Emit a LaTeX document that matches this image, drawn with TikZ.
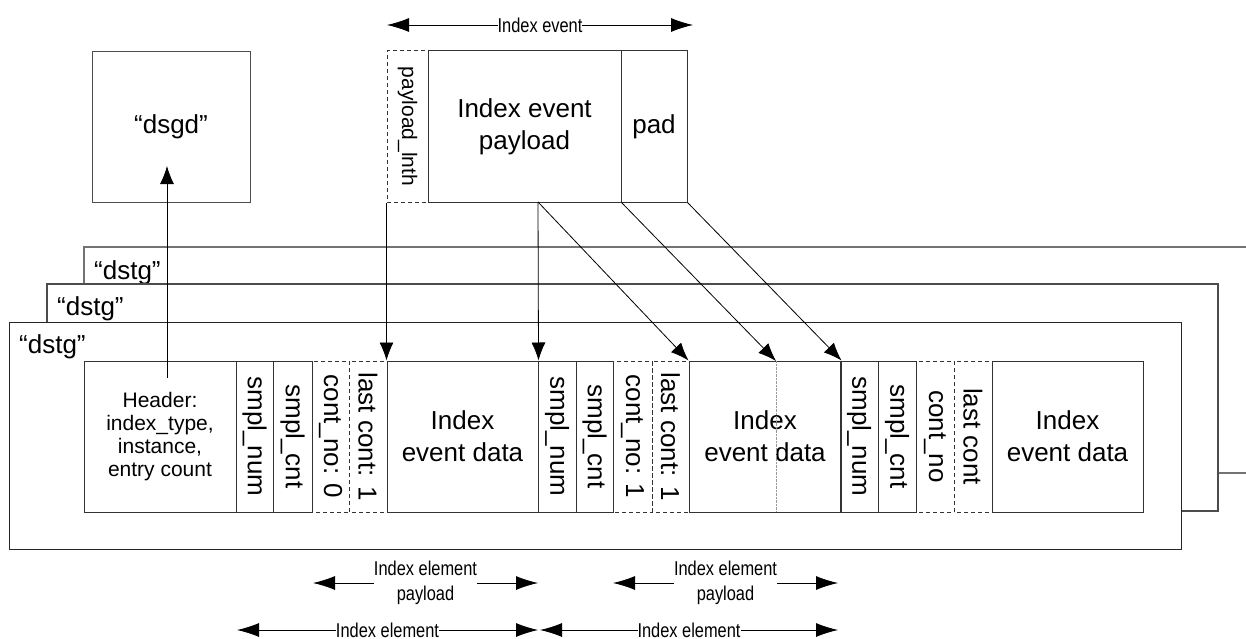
\documentclass[tikz,border=0pt]{standalone}
\usepackage{fontspec}
\setmainfont{Liberation Sans}
\newfontfamily\narrowfont[FakeStretch=0.82]{Liberation Sans}
\usetikzlibrary{arrows.meta}

\tikzset{
  box/.style={draw=black!80, line width=1pt, inner sep=0pt, align=center,
    font=\fontsize{26}{32}\selectfont},
  dbox/.style={box, dash pattern=on 4pt off 3pt},
  field/.style={box, rotate=-90, minimum width=151pt},
  dfield/.style={dbox, rotate=-90, minimum width=151pt},
  databox/.style={box, minimum height=151pt},
  conn/.style={-{Latex[length=18pt,width=14pt]}, line width=0.8pt},
  dim/.style={{Latex[length=22pt,width=14pt]}-{Latex[length=22pt,width=14pt]},
    line width=0.8pt},
  dimlabel/.style={fill=white, inner sep=0pt, align=center,
    font=\narrowfont\fontsize{20}{25}\selectfont},
  tag/.style={anchor=west, inner sep=0pt, font=\fontsize{26}{30}\selectfont},
}

\begin{document}
\begin{tikzpicture}[x=1pt, y=-1pt]
  \useasboundingbox (0,0) rectangle (1246,639);

  % "dsgd" box
  \node[box, draw=black!70, minimum width=158pt, minimum height=150pt,
    font=\fontsize{26}{30}\selectfont] (dsgd) at (171,127) {“dsgd”};

  % Index event
  \node[dfield, minimum height=41pt, font=\fontsize{21}{25}\selectfont]
    (lnth) at (407.5,126.5) {payload\_lnth};
  \node[databox, minimum width=193pt] (payload) at (524.5,126.5) {Index event\\payload};
  \node[databox, minimum width=66pt] (pad) at (654,126.5) {pad};

  % stacked "dstg" tags
  \draw[black!55, line width=1.3pt] (1246,247) -| (84,473) -- (1246,473);
  \node[tag] (tag3) at (94,273) {“dstg”};
  \draw[black!70, line width=1.2pt, fill=white] (47,284) rectangle (1218,511);
  \node[tag] (tag2) at (57,309) {“dstg”};
  \draw[black!85, line width=1pt, fill=white] (9,322) rectangle (1181,549);
  \node[tag] (tag1) at (19,347) {“dstg”};

  % header
  \node[databox, minimum width=152pt, font=\fontsize{21}{23}\selectfont]
    (hdr) at (160,436.5) {Header:\\index\_type,\\instance,\\entry count};

  % first index element
  \node[field, minimum height=37pt] (sn1) at (254.5,436.5) {smpl\_num};
  \node[field, minimum height=39pt] (sc1) at (292.5,436.5) {smpl\_cnt};
  \node[dfield, minimum height=37pt] (cn1) at (330.5,436.5) {cont\_no: 0};
  \node[dfield, minimum height=38pt] (lc1) at (368,436.5) {last cont: 1};
  \node[databox, minimum width=151pt] (d1) at (462.5,436.5) {Index\\event data};

  % second index element
  \node[field, minimum height=38pt] (sn2) at (557,436.5) {smpl\_num};
  \node[field, minimum height=37pt] (sc2) at (594.5,436.5) {smpl\_cnt};
  \node[dfield, minimum height=39pt] (cn2) at (632.5,436.5) {cont\_no: 1};
  \node[dfield, minimum height=37pt] (lc2) at (670.5,436.5) {last cont: 1};
  \node[databox, minimum width=152pt] (d2) at (765,436.5) {Index\\event data};

  % third index element
  \node[field, minimum height=38pt] (sn3) at (859,436.5) {smpl\_num};
  \node[field, minimum height=38pt] (sc3) at (897,436.5) {smpl\_cnt};
  \node[dfield, minimum height=38pt] (cn3) at (935,436.5) {cont\_no};
  \node[dfield, minimum height=38pt] (lc3) at (973,436.5) {last cont};
  \node[databox, minimum width=151pt] (d3) at (1067.5,436.5) {Index\\event data};

  % split of the payload over two elements
  \coordinate (split) at (538,202);
  \coordinate (cut) at (776,361);
  \coordinate (cut end) at (776,512);
  \draw[black!40, densely dotted] (cut) -- (cut end);

  \draw[conn] (lnth.south east) -- (d1.north west);
  \draw[conn] (split) -- (d1.north east);
  \draw[conn] (split) -- (d2.north west);
  \draw[conn] (payload.south east) -- (cut);
  \draw[conn] (pad.south east) -- (d2.north east);

  % header points back to "dsgd"
  \coordinate (hdr top) at (167,378);
  \coordinate (dsgd in) at (167,166);
  \draw[conn] (hdr top) -- (dsgd in);

  % dimensions
  \coordinate (ev l) at (387,25);
  \coordinate (ev r) at (693,25);
  \draw[dim] (ev l) -- node[dimlabel] {Index event} (ev r);

  \coordinate (pl1 l) at (313,583);
  \coordinate (pl1 r) at (538,583);
  \draw[dim] (pl1 l) -- node[dimlabel] {Index element\\payload} (pl1 r);
  \coordinate (pl2 l) at (613,583);
  \coordinate (pl2 r) at (838,583);
  \draw[dim] (pl2 l) -- node[dimlabel] {Index element\\payload} (pl2 r);

  \coordinate (el1 l) at (237,630);
  \coordinate (el1 r) at (538,630);
  \draw[dim] (el1 l) -- node[dimlabel] {Index element} (el1 r);
  \coordinate (el2 l) at (540,630);
  \coordinate (el2 r) at (838,630);
  \draw[dim] (el2 l) -- node[dimlabel] {Index element} (el2 r);
\end{tikzpicture}
\end{document}
